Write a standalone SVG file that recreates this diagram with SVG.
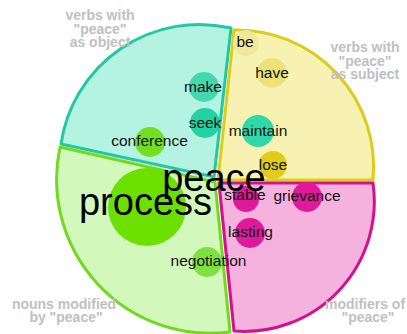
<svg xmlns="http://www.w3.org/2000/svg" width="407" height="334" viewBox="0 0 407 334">
<style>
.sec{stroke-width:3;stroke-linejoin:round}
.w{font-family:"Liberation Sans",Arial,sans-serif;font-size:15.5px;fill:#111;text-anchor:middle}
.big{font-family:"Liberation Sans",Arial,sans-serif;font-size:38px;fill:#000;text-anchor:middle}
.lab{font-family:"Liberation Sans",Arial,sans-serif;font-size:14px;font-weight:bold;fill:#c0c0c0;text-anchor:middle}
</style>
<rect width="407" height="334" fill="#fff"/>
<g id="sectors">
<g id="sector-object"><path class="sec" d="M214,177 L61,144 A140,140 0 0 1 231,28 Z" fill="#b4f2e2" stroke="#22c8a0"/></g>
<g id="sector-subject"><path class="sec" d="M218,180 L234,30 A137,137 0 0 1 373,180 Z" fill="#f8f2b2" stroke="#dccc1c"/></g>
<g id="sector-modifiers"><path class="sec" d="M219,183 L373,183 A130,130 0 0 1 234,331 Z" fill="#f5b2de" stroke="#d4108c"/></g>
<g id="sector-nouns"><path class="sec" d="M215,182 L230,332 A154,154 0 0 1 60,147 Z" fill="#d2f8bc" stroke="#72d820"/></g>
</g>
<g id="bubbles">
<g id="be"><circle cx="246" cy="43" r="13" fill="#f2e89a"/><text class="w" x="245" y="47">be</text></g>
<g id="have"><circle cx="272" cy="73" r="15" fill="#ece27a"/><text class="w" x="272" y="78">have</text></g>
<g id="make"><circle cx="204" cy="87" r="15" fill="#44d8b0"/><text class="w" x="203" y="92">make</text></g>
<g id="seek"><circle cx="205" cy="123" r="15" fill="#22d2a2"/><text class="w" x="205" y="128">seek</text></g>
<g id="maintain"><circle cx="258" cy="131" r="16" fill="#2ed8a8"/><text class="w" x="258" y="136">maintain</text></g>
<g id="conference"><circle cx="150" cy="142" r="15" fill="#72e022"/><text class="w" x="149.5" y="146">conference</text></g>
<g id="lose"><circle cx="273" cy="165" r="14" fill="#e2cc1a"/><text class="w" x="273" y="170">lose</text></g>
<g id="process"><circle cx="147" cy="207" r="39" fill="#6ce000"/><text class="big" x="145.5" y="215">process</text></g>
<g id="stable"><circle cx="246" cy="199" r="13" fill="#e0189a"/><text class="w" x="245" y="200">stable</text></g>
<g id="grievance"><circle cx="307" cy="197" r="15" fill="#e0189a"/><text class="w" x="307" y="201">grievance</text></g>
<g id="lasting"><circle cx="250" cy="233" r="15" fill="#e0189a"/><text class="w" x="250.5" y="237">lasting</text></g>
<g id="negotiation"><circle cx="207" cy="262" r="15" fill="#80e040"/><text class="w" x="208.5" y="266">negotiation</text></g>
<g id="peace"><text class="big" x="214" y="191">peace</text></g>
</g>
<g id="labels">
<text class="lab" x="100" y="20">verbs with</text>
<text class="lab" x="100" y="34">"peace"</text>
<text class="lab" x="100" y="47">as object</text>
<text class="lab" x="365" y="52">verbs with</text>
<text class="lab" x="365" y="66">"peace"</text>
<text class="lab" x="365" y="79">as subject</text>
<text class="lab" x="64" y="309">nouns modified</text>
<text class="lab" x="66" y="322">by "peace"</text>
<text class="lab" x="365" y="309">modifiers of</text>
<text class="lab" x="368" y="322">"peace"</text>
</g>
</svg>
